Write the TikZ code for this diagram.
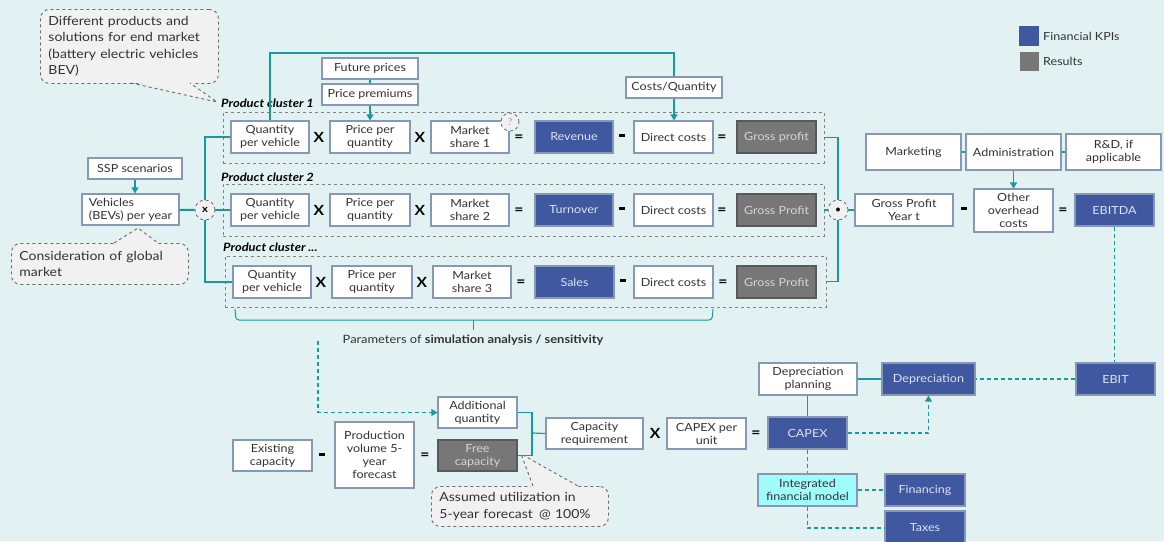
\documentclass[tikz,border=0pt]{standalone}
\usepackage{fontspec}
\setmainfont[FakeStretch=1.12]{Lato}
\usetikzlibrary{arrows.meta,calc}
\definecolor{bgc}{HTML}{E2F2F3}
\definecolor{tealc}{HTML}{18999B}
\definecolor{kpic}{HTML}{3F58A0}
\definecolor{kpit}{HTML}{DCE2F4}
\definecolor{resc}{HTML}{777777}
\definecolor{rest}{HTML}{D6D6D6}
\definecolor{bordc}{HTML}{8797B5}
\definecolor{txtc}{HTML}{333333}
\definecolor{cyanf}{HTML}{A0FBFB}
\definecolor{callf}{HTML}{F1F1F1}
\definecolor{calld}{HTML}{6A6A6A}
\newcommand{\bx}[7]{%
  \pgfmathsetmacro{\bxw}{#5-#3}\pgfmathsetmacro{\bxh}{#6-#4}%
  \pgfmathsetmacro{\bxx}{(#3+#5)/2}\pgfmathsetmacro{\bxy}{(#4+#6)/2}%
  \node[#2, minimum width=\bxw pt, minimum height=\bxh pt] (#1) at (\bxx,\bxy) {#7};}
\newcommand{\minus}{\rule[3.2pt]{5.5pt}{2.4pt}}
\begin{document}
\begin{tikzpicture}[x=1pt,y=-1pt,
  box/.style={draw=bordc, line width=1.1pt, fill=white, text=txtc, inner sep=1pt, align=center, font=\fontsize{11.2}{13}\selectfont},
  kpi/.style={box, fill=kpic, text=kpit},
  res/.style={box, fill=resc, draw=resc!75!black, text=rest},
  ifmstyle/.style={box, fill=cyanf},
  op/.style={font=\bfseries\fontsize{14}{14}\selectfont, text=black, inner sep=0pt},
  clus/.style={draw=gray, dashed, line width=0.8pt, inner sep=0pt},
  clab/.style={font=\bfseries\itshape\fontsize{11.5}{12}\selectfont, text=black, inner sep=0pt, anchor=base west},
  lnk/.style={draw=tealc, line width=1.2pt},
  arr/.style={lnk, -{Triangle[width=7pt,length=6pt]}},
  dlnk/.style={lnk, dash pattern=on 4pt off 3pt},
  callout/.style={draw=calld, dashed, line width=0.9pt, fill=callf, rounded corners=9pt, text=txtc, align=left, inner xsep=8pt, anchor=north west, font=\fontsize{12.5}{16.5}\selectfont},
  opc/.style={circle, draw=calld, dashed, line width=0.8pt, fill=callf, minimum size=20pt, inner sep=0pt, font=\bfseries\fontsize{10}{10}\selectfont}
]
\useasboundingbox (0,0) rectangle (1164,541);
\fill[bgc] (0,0) rectangle (1164,541);

% legend
\node[fill=kpic, minimum size=20pt, inner sep=0] (lg1) at (1029,36) {};
\node[fill=resc, minimum size=19pt, inner sep=0] (lg2) at (1029,61) {};
\node[anchor=west, text=txtc, font=\fontsize{11.2}{12}\selectfont, inner sep=0] (lgt1) at (1043,36) {Financial KPIs};
\node[anchor=west, text=txtc, font=\fontsize{11.2}{12}\selectfont, inner sep=0] (lgt2) at (1043,61) {Results};

% cluster frames
\bx{c1}{clus}{223}{112}{824}{163}{}
\bx{c2}{clus}{223}{184}{824}{236}{}
\bx{c3}{clus}{225}{256}{826}{307}{}
\node[clab] (cl1) at (221,107) {Product cluster 1};
\node[clab] (cl2) at (221,181) {Product cluster 2};
\node[clab] (cl3) at (223,251) {Product cluster ...};

% row 1
\bx{q1}{box}{231}{121}{309}{153}{Quantity\\per vehicle}
\bx{p1}{box}{330}{121}{410}{153}{Price per\\quantity}
\bx{m1}{box}{431}{121}{509}{153}{Market\\share 1}
\bx{r1}{kpi}{535}{121}{613}{153}{Revenue}
\bx{d1}{box}{634}{121}{713}{153}{Direct costs}
\bx{g1}{res}{737}{121}{816}{153}{Gross profit}
\node[op] (o11) at (319,137) {X};
\node[op] (o12) at (420,137) {X};
\node[op] (o13) at (519,138) {=};
\node[op] (o14) at (622,137) {\minus};
\node[op] (o15) at (722,138) {=};
\node[circle, draw=calld, dashed, line width=0.8pt, fill=callf, minimum size=18pt, inner sep=0pt, text=bordc!80, font=\fontsize{10}{10}\selectfont] (qm) at (510,122) {?};

% row 2
\bx{q2}{box}{231}{194}{309}{226}{Quantity\\per vehicle}
\bx{p2}{box}{330}{194}{410}{226}{Price per\\quantity}
\bx{m2}{box}{431}{194}{509}{226}{Market\\share 2}
\bx{r2}{kpi}{535}{194}{613}{226}{Turnover}
\bx{d2}{box}{634}{194}{713}{226}{Direct costs}
\bx{g2}{res}{737}{194}{816}{226}{Gross Profit}
\node[op] (o21) at (319,210) {X};
\node[op] (o22) at (420,210) {X};
\node[op] (o23) at (519,211) {=};
\node[op] (o24) at (622,210) {\minus};
\node[op] (o25) at (722,211) {=};

% row 3
\bx{q3}{box}{233}{266}{311}{298}{Quantity\\per vehicle}
\bx{p3}{box}{332}{266}{412}{298}{Price per\\quantity}
\bx{m3}{box}{433}{266}{511}{298}{Market\\share 3}
\bx{r3}{kpi}{535}{266}{614}{298}{Sales}
\bx{d3}{box}{634}{266}{713}{298}{Direct costs}
\bx{g3}{res}{737}{266}{816}{298}{Gross Profit}
\node[op] (o31) at (321,282) {X};
\node[op] (o32) at (422,282) {X};
\node[op] (o33) at (521,283) {=};
\node[op] (o34) at (623,282) {\minus};
\node[op] (o35) at (723,283) {=};

% top inputs
\bx{fp}{box}{322}{58}{418}{79}{Future prices}
\bx{pp}{box}{322}{84}{418}{105}{Price premiums}
\bx{cq}{box}{626}{77}{722}{98}{Costs/Quantity}
\coordinate (topc) at (674,53);
\draw[lnk] (fp) -- (pp);
\draw[arr] (pp.south) -- (pp.south |- p1.north);
\draw[lnk] (q1.north) |- (topc) -- (topc |- cq.north);
\draw[arr] (topc |- cq.south) -- (topc |- d1.north);

% left side
\bx{ssp}{box}{88}{158}{182}{179}{SSP scenarios}
\bx{veh}{box}{82}{194}{179}{225}{Vehicles\hspace*{3.4em}\\(BEVs) per year}
\node[opc] (cx) at (205,210) {x};
\draw[arr] (ssp.south) -- (ssp.south |- veh.north);
\draw[lnk, line width=2pt] (veh) -- (cx);
\draw[lnk] (cx.north) |- (q1.west);
\draw[lnk] (cx) -- (q2);
\draw[lnk] (cx.south) |- (q3.west);

% right side
\node[opc] (cp) at (838,210) {$\bullet$};
\draw[lnk] (c1.east) -| (cp.north);
\draw[lnk] (c2) -- (cp);
\draw[lnk] (c3.east) -| (cp.south);
\bx{gpy}{box}{855}{194}{953}{226}{Gross Profit\\Year t}
\bx{oth}{box}{974}{189}{1053}{232}{Other\\overhead\\costs}
\bx{ebitda}{kpi}{1075}{194}{1154}{226}{EBITDA}
\node[op] (o41) at (964,210) {\minus};
\node[op] (o42) at (1063,211) {=};
\bx{mk}{box}{866}{134}{961}{170}{Marketing}
\bx{adm}{box}{966}{134}{1061}{170}{Administration}
\bx{rd}{box}{1066}{134}{1161}{170}{R\&D, if\\applicable}
\draw[lnk] (cp) -- (gpy);
\draw[lnk] (mk) -- (adm);
\draw[lnk] (adm) -- (rd);
\draw[arr] (adm.south) -- (adm.south |- oth.north);

% depreciation / capex
\bx{ebit}{kpi}{1076}{363}{1155}{395}{EBIT}
\bx{dep}{kpi}{882}{363}{975}{395}{Depreciation}
\bx{dpl}{box}{759}{363}{857}{395}{Depreciation\\planning}
\bx{capex}{kpi}{768}{417}{847}{449}{CAPEX}
\bx{ifm}{ifmstyle}{758}{474}{857}{506}{Integrated\\financial model}
\bx{fin}{kpi}{885}{474}{965}{506}{Financing}
\bx{tax}{kpi}{885}{511}{965}{545}{Taxes}
\draw[dlnk] (ebitda.south) -- (ebitda.south |- ebit.north);
\draw[dlnk] (ebit) -- (dep);
\draw[lnk] (dpl) -- (dep);
\draw[lnk] (capex.north |- dpl.south) -- (capex.north);
\draw[dlnk, -{Triangle[width=7pt,length=6pt]}] (capex.east) -| (dep.south);
\draw[dlnk] (capex) -- (ifm);
\draw[dlnk] (ifm) -- (fin);
\draw[dlnk] (ifm.south) |- (tax.west);

% bottom left
\bx{exc}{box}{233}{440}{312}{471}{Existing\\capacity}
\bx{pv}{box}{335}{422}{414}{488}{Production\\volume 5-\\year\\forecast}
\bx{addq}{box}{438}{397}{517}{428}{Additional\\quantity}
\bx{freec}{res}{438}{440}{517}{471}{Free\\capacity}
\bx{capreq}{box}{546}{418}{643}{449}{Capacity\\requirement}
\bx{cpu}{box}{667}{418}{746}{449}{CAPEX per\\unit}
\node[op] (o51) at (322,456) {\minus};
\node[op] (o52) at (425,456) {=};
\node[op] (o53) at (655,433) {X};
\node[op] (o54) at (756,434) {=};
\coordinate (jn) at (532,433);
\draw[lnk] (addq.east) -- (jn |- addq.east) |- (freec.east);
\draw[lnk] (jn) -- (capreq.west);

% brace and parameters
\coordinate (brl) at (235,309);
\coordinate (brr) at (713,309);
\coordinate (brm) at (473,320);
\draw[lnk, line width=1pt, rounded corners=3pt] (brl) -- (236,320) -- (712,320) -- (brr);
\draw[lnk, line width=1pt] (brm) -- ++(0,10);
\node[text=txtc, font=\fontsize{11.5}{12}\selectfont, inner sep=0pt, anchor=base] (par) at (473,343) {Parameters of \textbf{simulation analysis / sensitivity}};
\coordinate (ds) at (318,341);
\draw[dlnk, -{Triangle[width=7pt,length=6pt]}] (ds) |- (addq.west);

% callouts
\node[callout, minimum width=178pt, minimum height=74pt, text width=162pt] (call1) at (40,9) {Different products and\\solutions for end market\\(battery electric vehicles\\BEV)};
\fill[callf] (131,81) -- (217,102) -- (192,81) -- cycle;
\draw[calld, dashed, line width=0.9pt] (131,83) -- (217,102) -- (190,83);

\node[callout, minimum width=177pt, minimum height=41pt, text width=161pt] (call2) at (11,243) {Consideration of global\\market};
\fill[callf] (112,245) -- (138,228) -- (160,245) -- cycle;
\draw[calld, dashed, line width=0.9pt] (114,243) -- (138,228) -- (158,243);

\node[callout, minimum width=177pt, minimum height=40pt, text width=161pt] (call3) at (431,486) {Assumed utilization in\\5-year forecast\, @ 100\%};
\fill[callf] (531,488) -- (521,454) -- (580,488) -- cycle;
\draw[calld, dashed, line width=0.9pt] (533,486) -- (521,454) -- (578,486);
\end{tikzpicture}
\end{document}
